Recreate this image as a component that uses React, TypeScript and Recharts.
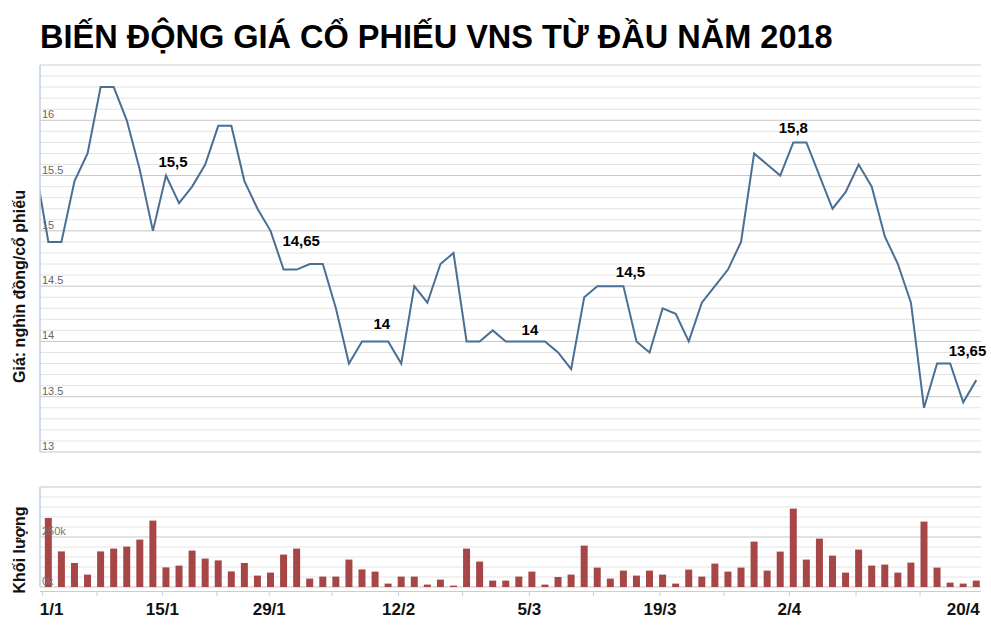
import React from 'react';
import {
  LineChart,
  Line,
  BarChart,
  Bar,
  XAxis,
  YAxis,
  CartesianGrid,
  ReferenceDot,
} from 'recharts';

const TITLE = 'BIẾN ĐỘNG GIÁ CỔ PHIẾU VNS TỪ ĐẦU NĂM 2018';
const PRICE_AXIS_TITLE = 'Giá: nghìn đồng/cổ phiếu';
const VOLUME_AXIS_TITLE = 'Khối lượng';

// Trading-day index of the first price value (one session before the visible range)
const FIRST_PRICE_INDEX = -1;

// Closing price (thousand VND) per trading session
const prices = [
  15.58,
  14.9, 14.9, 15.45, 15.7, 16.3, 16.3, 16.0, 15.55, 15.0, 15.5,
  15.25, 15.4, 15.6, 15.95, 15.95, 15.45, 15.2, 15.0, 14.65, 14.65,
  14.7, 14.7, 14.3, 13.8, 14.0, 14.0, 14.0, 13.8, 14.5, 14.35,
  14.7, 14.8, 14.0, 14.0, 14.1, 14.0, 14.0, 14.0, 14.0, 13.9,
  13.75, 14.4, 14.5, 14.5, 14.5, 14.0, 13.9, 14.3, 14.25, 14.0,
  14.35, 14.5, 14.65, 14.9, 15.7, 15.6, 15.5, 15.8, 15.8, 15.5,
  15.2, 15.35, 15.6, 15.4, 14.95, 14.7, 14.35, 13.4, 13.8, 13.8,
  13.45, 13.65,
];

// Traded volume (thousand shares) per trading session, index 0..71
const volumesK = [
  345, 178, 120, 62, 178, 192, 202, 237, 332, 98,
  107, 182, 142, 133, 78, 120, 57, 72, 162, 192,
  42, 52, 52, 137, 88, 77, 17, 52, 52, 12,
  37, 7, 192, 127, 32, 32, 52, 77, 12, 50,
  62, 207, 97, 42, 82, 57, 82, 62, 17, 87,
  52, 117, 77, 97, 227, 82, 177, 392, 137, 242,
  157, 72, 187, 107, 112, 72, 122, 327, 97, 22,
  17, 32,
];

// Date ticks on the (ordinal) session axis
const dateTickPos = [-0.43, 3.73, 8.72, 12.9, 16.9, 21.7, 26.8, 31.7, 36.8, 41.7, 46.8, 51.7, 56.7, 61.8, 66.7, 71];
const dateTickLabels = ['1/1', '', '15/1', '', '29/1', '', '12/2', '', '5/3', '', '19/3', '', '2/4', '', '', '20/4'];

const priceTicks = [13, 13.5, 14, 14.5, 15, 15.5, 16];
const priceMinorGrid = [
  13.1, 13.2, 13.3, 13.4, 13.6, 13.7, 13.8, 13.9, 14.1, 14.2, 14.3, 14.4,
  14.6, 14.7, 14.8, 14.9, 15.1, 15.2, 15.3, 15.4, 15.6, 15.7, 15.8, 15.9,
  16.1, 16.2, 16.3, 16.4,
];
const priceMax = 16.5;
const priceMin = 13;

const volumeTicks = [0, 250];
const volumeMinorGrid = [50, 100, 150, 200, 300, 350, 400, 450];
const volumeMax = 500;

const annotations = [
  { i: 9, text: '15,5' },
  { i: 19, text: '14,65' },
  { i: 25, text: '14' },
  { i: 37, text: '14' },
  { i: 44, text: '14,5' },
  { i: 57, text: '15,8' },
  { i: 71, text: '13,65' },
];
// label placement relative to the annotated point (px)
const annotationStyle = [
  { dx: 7, dy: -9, anchor: 'middle' },
  { dx: 4.5, dy: -24, anchor: 'middle' },
  { dx: 6.7, dy: -12, anchor: 'middle' },
  { dx: -2, dy: -6, anchor: 'middle' },
  { dx: 7, dy: -9, anchor: 'middle' },
  { dx: 0, dy: -9, anchor: 'middle' },
  { dx: 10, dy: -24, anchor: 'end' },
];

const priceData = prices.map((p, k) => ({ i: k + FIRST_PRICE_INDEX, price: p }));
const volumeData = volumesK.map((v, k) => ({ i: k, vol: v }));
const priceAt = (i: number) => prices[i - FIRST_PRICE_INDEX];

const X_DOMAIN: [number, number] = [-0.64, 71.36];
const FONT = '"Liberation Sans", Arial, Helvetica, sans-serif';
const AXIS_COLOR = '#C0D0E0';
const MAJOR_GRID = '#C6C6C6';
const MINOR_GRID = '#E4E4E4';
const LINE_COLOR = '#4A6F94';
const BAR_COLOR = '#A64646';

const PriceTick = (props: any) => {
  const { x, y, payload } = props;
  return (
    <text x={x + 2} y={y - 2} fontSize={11} fill="#666" fontFamily={FONT} textAnchor="start">
      {String(payload.value)}
    </text>
  );
};

const VolumeTick = (props: any) => {
  const { x, y, payload } = props;
  return (
    <text x={x + 2} y={y - 2} fontSize={11} fill="#777" fontFamily={FONT} textAnchor="start">
      {`${payload.value}k`}
    </text>
  );
};

const DateTick = (props: any) => {
  const { x, y, payload } = props;
  const idx = dateTickPos.indexOf(payload.value);
  const label = idx >= 0 ? dateTickLabels[idx] : '';
  const isFirst = idx === 0;
  const isLast = idx === dateTickPos.length - 1;
  const anchor = isFirst ? 'start' : isLast ? 'end' : 'middle';
  const lx = isFirst ? x - 3 : isLast ? x + 3.5 : x;
  return (
    <g>
      {!isLast && <line x1={x} x2={x} y1={y + 4.5} y2={y + 9} stroke={AXIS_COLOR} strokeWidth={1} />}
      {label && (
        <text x={lx} y={y + 28} textAnchor={anchor} fontSize={17} fontWeight="bold" fill="#111" fontFamily={FONT}>
          {label}
        </text>
      )}
    </g>
  );
};

const axisTitle = (text: string, offsetY: number) => (props: any) => {
  const vb = props.viewBox || {};
  const cx = 24.5;
  const cy = vb.y + vb.height / 2 + offsetY;
  return (
    <text
      transform={`translate(${cx}, ${cy}) rotate(-90)`}
      textAnchor="middle"
      fontSize={16}
      fontWeight="bold"
      fill="#111"
      fontFamily={FONT}
    >
      {text}
    </text>
  );
};

export default function App() {
  return (
    <div
      style={{
        position: 'absolute',
        left: 0,
        top: 0,
        width: 991,
        height: 631,
        background: '#fff',
        fontFamily: FONT,
        overflow: 'hidden',
      }}
    >
      <div
        style={{
          position: 'absolute',
          left: 40,
          top: 20.5,
          fontSize: 32.5,
          lineHeight: '32.5px',
          fontWeight: 'bold',
          color: '#000',
          whiteSpace: 'nowrap',
        }}
      >
        {TITLE}
      </div>

      <div style={{ position: 'absolute', left: 0, top: 0 }}>
        <LineChart width={991} height={460} data={priceData} margin={{ top: 65, right: 10, bottom: 8, left: 0 }}>
          <CartesianGrid horizontalValues={priceMinorGrid} vertical={false} stroke={MINOR_GRID} strokeWidth={1} />
          <CartesianGrid horizontalValues={priceTicks} vertical={false} stroke={MAJOR_GRID} strokeWidth={1} />
          <CartesianGrid horizontalValues={[priceMax]} vertical={false} stroke={AXIS_COLOR} strokeWidth={1} />
          <XAxis
            dataKey="i"
            type="number"
            domain={X_DOMAIN}
            allowDataOverflow
            hide
            height={0}
          />
          <YAxis
            type="number"
            domain={[priceMin, priceMax]}
            ticks={priceTicks}
            allowDataOverflow
            width={40}
            tickSize={0}
            tickMargin={0}
            tickLine={false}
            axisLine={{ stroke: AXIS_COLOR, strokeWidth: 1.5 }}
            tick={<PriceTick />}
            interval={0}
            label={{ content: axisTitle(PRICE_AXIS_TITLE, 28) }}
          />
          <Line
            type="linear"
            dataKey="price"
            stroke={LINE_COLOR}
            strokeWidth={2}
            dot={false}
            activeDot={false}
            isAnimationActive={false}
          />
          {annotations.map((a, k) => {
            const st = annotationStyle[k];
            return (
              <ReferenceDot
                key={k}
                x={a.i}
                y={priceAt(a.i)}
                r={0}
                fill="none"
                stroke="none"
                label={{
                  content: (p: any) => {
                    const vb = p.viewBox || {};
                    return (
                      <text
                        x={vb.x + st.dx}
                        y={vb.y + st.dy}
                        textAnchor={st.anchor}
                        fontSize={15}
                        fontWeight="bold"
                        fill="#000"
                        fontFamily={FONT}
                      >
                        {a.text}
                      </text>
                    );
                  },
                }}
              />
            );
          })}
        </LineChart>
      </div>

      <div style={{ position: 'absolute', left: 0, top: 470 }}>
        <BarChart width={991} height={161} data={volumeData} margin={{ top: 17, right: 10, bottom: 4, left: 0 }}>
          <CartesianGrid horizontalValues={volumeMinorGrid} vertical={false} stroke={MINOR_GRID} strokeWidth={1} />
          <CartesianGrid horizontalValues={[0, 250, volumeMax]} vertical={false} stroke={MAJOR_GRID} strokeWidth={1} />
          <XAxis
            dataKey="i"
            type="number"
            domain={X_DOMAIN}
            allowDataOverflow
            ticks={dateTickPos}
            interval={0}
            height={40}
            tickSize={0}
            tickMargin={0}
            tickLine={false}
            axisLine={{ stroke: AXIS_COLOR, strokeWidth: 1, transform: 'translate(0,4.5)' }}
            tick={<DateTick />}
          />
          <YAxis
            type="number"
            domain={[0, volumeMax]}
            ticks={volumeTicks}
            width={40}
            tickSize={0}
            tickMargin={0}
            tickLine={false}
            axisLine={{ stroke: AXIS_COLOR, strokeWidth: 1.5 }}
            tick={<VolumeTick />}
            interval={0}
            label={{ content: axisTitle(VOLUME_AXIS_TITLE, 13) }}
          />
          <Bar dataKey="vol" fill={BAR_COLOR} barSize={7} isAnimationActive={false} />
        </BarChart>
      </div>
    </div>
  );
}
